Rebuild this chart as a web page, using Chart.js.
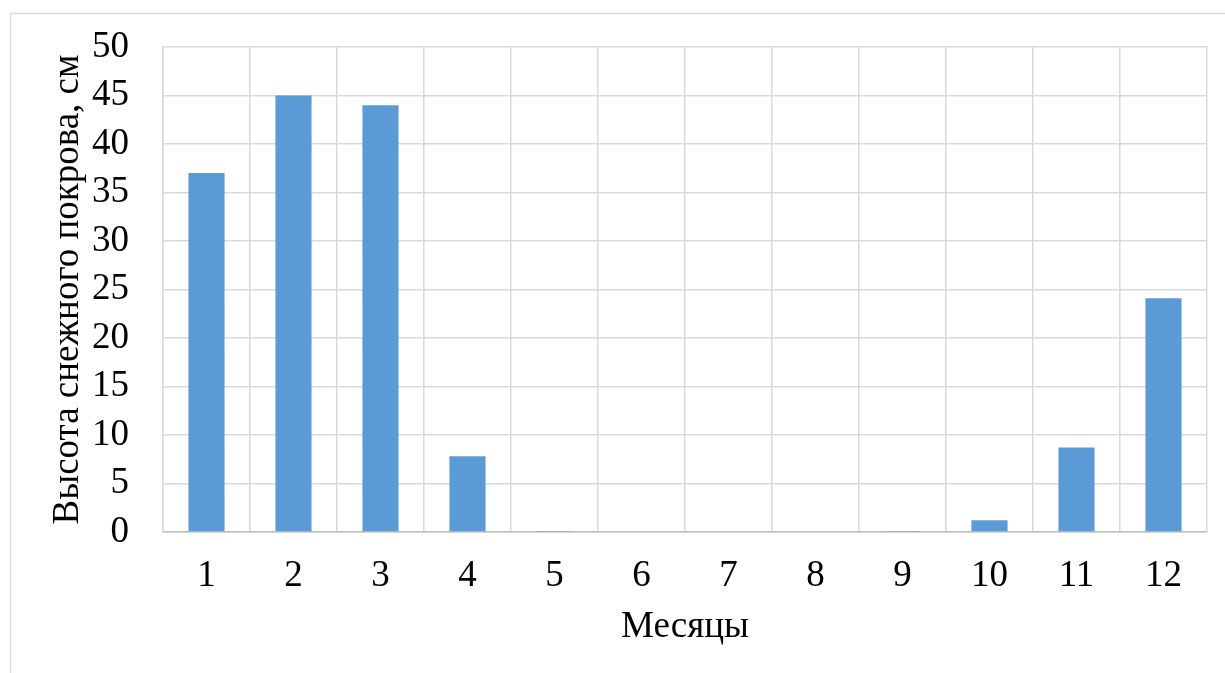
<!DOCTYPE html>
<html lang="ru">
<head>
<meta charset="utf-8">
<title>Высота снежного покрова</title>
<script src="https://cdn.jsdelivr.net/npm/chart.js@4/dist/chart.umd.min.js"></script>
<style>
  html, body { margin: 0; padding: 0; background: #ffffff; }
  #wrap { position: relative; width: 1225px; height: 673px; }
  canvas { display: block; }
</style>
</head>
<body>
<div id="wrap"><canvas id="snow" width="1225" height="673"></canvas></div>
<script>
// Months of the year (x-axis categories)
const months = ['1', '2', '3', '4', '5', '6', '7', '8', '9', '10', '11', '12'];
// Mean snow cover depth per month, cm
const snowDepth = [37, 45, 44, 7.8, 0.1, 0, 0, 0, 0.1, 1.2, 8.7, 24.1];
// Y-axis range and step
const yMin = 0;
const yMax = 50;
const yStep = 5;

const axisTitleY = 'Высота снежного покрова, см';
const axisTitleX = 'Месяцы';

const FONT = '"Liberation Serif", "Times New Roman", serif';
const FONT_SIZE = 37;
const gridColor = '#d9d9d9';

// Light frame around the chart block
const framePlugin = {
  id: 'frame',
  beforeDraw(chart) {
    const ctx = chart.ctx;
    ctx.save();
    ctx.strokeStyle = gridColor;
    ctx.lineWidth = 1.5;
    ctx.beginPath();
    ctx.moveTo(10.5, chart.height + 5);
    ctx.lineTo(10.5, 13.5);
    ctx.lineTo(chart.width + 5, 13.5);
    ctx.stroke();
    ctx.restore();
  }
};

new Chart(document.getElementById('snow'), {
  type: 'bar',
  data: {
    labels: months,
    datasets: [{
      data: snowDepth,
      backgroundColor: '#5b9bd5',
      borderWidth: 0,
      categoryPercentage: 1.0,
      barPercentage: 0.415
    }]
  },
  options: {
    responsive: false,
    animation: false,
    devicePixelRatio: 1,
    layout: { padding: { left: 46, top: 47, right: 18, bottom: 0 } },
    plugins: {
      legend: { display: false },
      tooltip: { enabled: false }
    },
    scales: {
      x: {
        grid: { color: gridColor, lineWidth: 1.5, drawTicks: false, offset: true },
        border: { color: '#bfbfbf', width: 1.5 },
        ticks: { color: '#000', font: { family: FONT, size: FONT_SIZE }, padding: 22, maxRotation: 0 },
        title: { display: true, text: axisTitleX, color: '#000', font: { family: FONT, size: FONT_SIZE }, padding: { top: 0, bottom: 24 } },
        afterFit(scale) {
          scale.height = 141;
          scale.paddingLeft = 0;
          scale.paddingRight = 0;
        }
      },
      y: {
        min: yMin,
        max: yMax,
        grid: { color: gridColor, lineWidth: 1.5, drawTicks: false },
        border: { color: gridColor, width: 1.5 },
        ticks: { stepSize: yStep, color: '#000', font: { family: FONT, size: FONT_SIZE }, padding: 34 },
        title: { display: true, text: axisTitleY, color: '#000', font: { family: FONT, size: FONT_SIZE }, padding: 0 },
        afterFit(scale) {
          scale.width = 117;
          scale.paddingTop = 0;
          scale.paddingBottom = 0;
        }
      }
    }
  },
  plugins: [framePlugin]
});
</script>
</body>
</html>
